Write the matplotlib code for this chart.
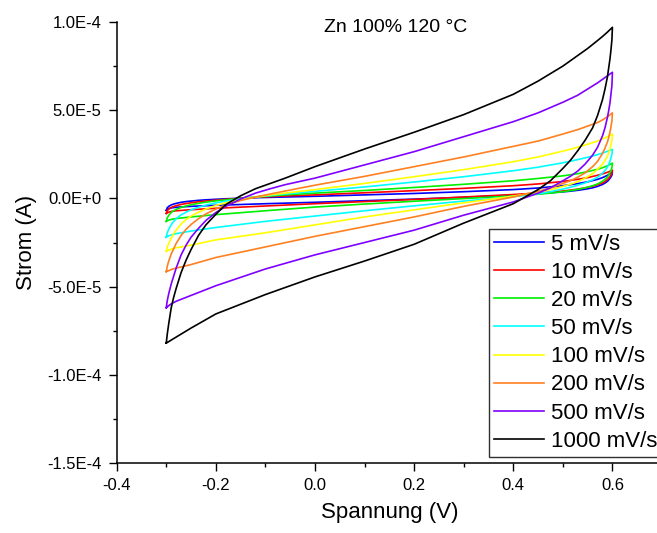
import matplotlib
matplotlib.use("Agg")
import matplotlib.pyplot as plt
from matplotlib.ticker import MultipleLocator, FuncFormatter
import numpy as np

# shared voltage grids (V): forward branch and reverse branch
v_up = [-0.3, -0.298, -0.295, -0.29, -0.285, -0.28, -0.27, -0.26, -0.25, -0.235,
        -0.22, -0.2, -0.18, -0.15, -0.12, -0.09, -0.06, 0.0, 0.1, 0.2,
        0.3, 0.4, 0.45, 0.5, 0.53, 0.55, 0.57, 0.58, 0.59, 0.6]
v_down = [0.6, 0.599, 0.597, 0.595, 0.592, 0.59, 0.585, 0.58, 0.57, 0.56,
          0.545, 0.53, 0.515, 0.5, 0.475, 0.45, 0.4, 0.3, 0.2, 0.1,
          0.0, -0.1, -0.2, -0.25, -0.28, -0.29, -0.295, -0.3]

labels = ["5 mV/s", "10 mV/s", "20 mV/s", "50 mV/s",
          "100 mV/s", "200 mV/s", "500 mV/s", "1000 mV/s"]
colors = ["#0000FF", "#FF0000", "#00F000", "#00FFFF",
          "#FFFF00", "#FF8020", "#8000FF", "#000000"]

# currents in microampere
i_up = {
    "5 mV/s":    [-6.8, -5.3, -4.5, -3.7, -3.2, -2.8, -2.2, -1.8, -1.5, -1.1,
                  -0.8, -0.5, -0.2, 0.1, 0.4, 0.6, 0.8, 1.2, 2.0, 2.8,
                  3.8, 5.0, 5.9, 7.2, 8.4, 9.4, 10.8, 11.8, 13.1, 14.8],
    "10 mV/s":   [-8.5, -7.0, -6.0, -5.1, -4.6, -4.1, -3.4, -2.9, -2.5, -1.9,
                  -1.5, -1.0, -0.5, 0.1, 0.6, 1.0, 1.4, 2.0, 3.2, 4.4,
                  5.7, 7.2, 8.2, 9.6, 10.8, 11.8, 13.1, 13.9, 14.8, 16.0],
    "20 mV/s":   [-13.0, -11.0, -9.6, -8.0, -7.0, -6.2, -5.1, -4.3, -3.6, -2.8,
                  -2.1, -1.4, -0.8, 0.0, 0.8, 1.4, 2.0, 3.0, 4.5, 6.2,
                  8.0, 10.0, 11.3, 12.8, 14.0, 15.2, 16.5, 17.4, 18.5, 20.0],
    "50 mV/s":   [-22.0, -19.5, -17.5, -15.0, -13.0, -11.5, -9.3, -7.8, -6.5, -5.0,
                  -3.8, -2.5, -1.5, -0.3, 0.8, 1.7, 2.5, 4.0, 6.5, 9.3,
                  12.3, 15.7, 17.7, 20.2, 22.0, 23.3, 24.8, 25.7, 26.7, 27.8],
    "100 mV/s":  [-30.0, -27.5, -25.5, -22.5, -20.0, -18.0, -14.5, -12.0, -10.0, -7.8,
                  -6.0, -4.0, -2.5, -0.7, 0.8, 2.0, 3.0, 5.0, 8.5, 12.3,
                  16.3, 20.8, 23.5, 26.8, 29.0, 30.7, 32.5, 33.7, 35.0, 36.5],
    "200 mV/s":  [-41.5, -38.5, -35.5, -31.5, -28.5, -25.5, -21.0, -17.5, -14.8, -11.5,
                  -8.8, -6.0, -3.8, -1.2, 0.8, 2.5, 4.2, 7.5, 12.5, 18.0,
                  23.5, 29.5, 32.5, 36.5, 39.0, 41.0, 43.0, 44.5, 46.3, 48.5],
    "500 mV/s":  [-62.0, -58.0, -54.0, -48.5, -44.0, -39.5, -32.0, -26.5, -22.0, -17.0,
                  -12.5, -8.0, -4.5, -0.3, 3.0, 5.5, 7.8, 11.5, 19.0, 26.5,
                  35.0, 43.5, 48.5, 54.5, 58.5, 62.0, 65.5, 67.5, 69.5, 71.5],
    "1000 mV/s": [-82.0, -77.0, -71.0, -62.0, -56.0, -51.0, -42.0, -35.0, -29.0, -21.0,
                  -15.0, -9.0, -3.5, 1.5, 5.5, 8.5, 11.5, 18.0, 28.0, 37.5,
                  47.5, 59.0, 66.5, 75.0, 81.0, 85.0, 89.5, 91.8, 94.3, 97.0],
}
i_down = {
    "5 mV/s":    [14.8, 13.2, 12.2, 11.3, 10.3, 9.7, 8.7, 7.9, 6.8, 6.0,
                  5.2, 4.6, 4.1, 3.7, 3.2, 2.7, 1.9, 0.6, -0.4, -1.3,
                  -2.2, -3.0, -3.9, -4.5, -5.0, -5.4, -5.9, -6.8],
    "10 mV/s":   [16.0, 14.3, 13.2, 12.3, 11.3, 10.7, 9.6, 8.8, 7.7, 6.9,
                  6.0, 5.3, 4.7, 4.2, 3.6, 3.1, 2.2, 0.8, -0.6, -1.8,
                  -3.0, -4.3, -5.6, -6.4, -7.0, -7.4, -7.8, -8.5],
    "20 mV/s":   [20.0, 17.5, 15.8, 14.5, 13.0, 12.2, 10.8, 9.7, 8.2, 7.2,
                  6.0, 5.1, 4.4, 3.8, 3.0, 2.4, 1.4, -0.1, -1.6, -3.2,
                  -4.9, -7.0, -9.2, -10.5, -11.4, -11.9, -12.3, -13.0],
    "50 mV/s":   [27.8, 25.0, 23.0, 21.0, 19.0, 17.8, 15.8, 14.3, 12.0, 10.5,
                  8.8, 7.5, 6.3, 5.3, 3.8, 2.6, 1.0, -1.5, -4.2, -7.0,
                  -10.0, -13.0, -16.5, -18.5, -20.0, -20.7, -21.2, -22.0],
    "100 mV/s":  [36.5, 33.0, 30.5, 28.0, 25.5, 24.0, 21.5, 19.5, 16.5, 14.0,
                  11.5, 9.5, 8.0, 6.8, 5.0, 3.5, 1.3, -2.5, -6.5, -10.5,
                  -15.0, -19.5, -23.5, -26.5, -28.0, -28.8, -29.3, -30.0],
    "200 mV/s":  [48.5, 44.0, 40.5, 37.5, 34.0, 32.0, 28.5, 25.5, 21.0, 18.0,
                  14.5, 12.0, 10.0, 8.5, 6.0, 4.0, 0.8, -4.5, -10.5, -16.0,
                  -21.5, -27.5, -33.5, -37.5, -39.5, -40.3, -41.0, -41.5],
    "500 mV/s":  [71.5, 64.0, 59.0, 54.0, 49.0, 46.0, 40.0, 35.5, 29.0, 24.5,
                  19.5, 15.5, 12.5, 10.0, 6.0, 3.0, -2.0, -9.5, -18.0, -25.0,
                  -32.0, -40.0, -49.5, -55.0, -58.3, -59.8, -60.8, -62.0],
    "1000 mV/s": [97.0, 90.0, 84.0, 79.0, 73.0, 69.0, 62.0, 56.0, 47.0, 40.0,
                  33.0, 27.0, 21.5, 17.0, 10.0, 5.0, -3.0, -14.0, -26.0, -35.5,
                  -44.5, -54.5, -65.5, -73.5, -78.6, -80.3, -81.2, -82.0],
}

plt.rcParams["font.family"] = ["Liberation Sans", "DejaVu Sans"]

fig = plt.figure(figsize=(6.57, 5.33), dpi=100)
ax = fig.add_axes([0.1776, 0.1313, 0.830, 0.8274])

for lab, col in zip(labels, colors):
    v = np.array(v_up + v_down)
    cur = np.array(i_up[lab] + i_down[lab]) * 1e-6
    ax.plot(v, cur, color=col, lw=1.2, label=lab)

ax.set_xlim(-0.4, 0.7)
ax.set_ylim(-1.5e-4, 1.0e-4)
ax.xaxis.set_major_locator(MultipleLocator(0.2))
ax.xaxis.set_minor_locator(MultipleLocator(0.1))
ax.yaxis.set_major_locator(MultipleLocator(5e-5))
ax.yaxis.set_minor_locator(MultipleLocator(2.5e-5))


def sci_fmt(val, pos):
    mant, ex = f"{val:.1E}".split("E")
    return f"{mant}E{int(ex):+d}"


ax.yaxis.set_major_formatter(FuncFormatter(sci_fmt))
ax.xaxis.set_major_formatter(FuncFormatter(lambda v, p: f"{v:.1f}"))

for s in ["top", "right"]:
    ax.spines[s].set_visible(False)
for s in ["left", "bottom"]:
    ax.spines[s].set_linewidth(1.1)
ax.tick_params(which="major", direction="out", length=6, width=1.0, labelsize=12, pad=5)
ax.tick_params(which="minor", direction="out", length=3, width=1.0)

ax.set_xlabel("Spannung (V)", fontsize=16, labelpad=6)
ax.set_ylabel("Strom (A)", fontsize=16, labelpad=7)

fig.text(324 / 657, 1 - 32 / 533, "Zn 100% 120 °C", fontsize=14, va="baseline", ha="left")

leg = ax.legend(loc="upper left", bbox_to_anchor=(488.7 / 657, 1 - 229 / 533),
                bbox_transform=fig.transFigure, fontsize=16, frameon=True,
                fancybox=False, edgecolor="#303030", framealpha=1,
                handlelength=2.25, handletextpad=0.33, borderpad=0.22,
                labelspacing=0.32, borderaxespad=0)
leg.get_frame().set_linewidth(1.0)

fig.savefig("out.png", dpi=100)
plt.close(fig)
